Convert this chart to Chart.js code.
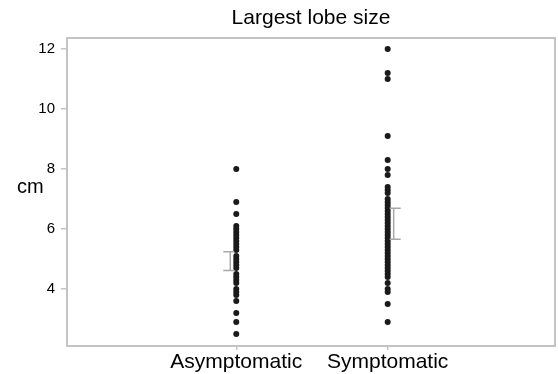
<!DOCTYPE html>
<html>
<head>
<meta charset="utf-8">
<script src="https://cdn.jsdelivr.net/npm/chart.js@4"></script>
<style>
  html, body { margin: 0; padding: 0; background: #fff; }
  #wrap { width: 558px; height: 374px; }
</style>
</head>
<body>
<div id="wrap"><canvas id="grafico"></canvas></div>
<script>
// Datos
const titulo = 'Largest lobe size';
const categorias = ['Asymptomatic', 'Symptomatic'];
const asintomaticos = [8.0, 6.9, 6.5, 6.1, 6.0, 5.9, 5.8, 5.7, 5.6, 5.5, 5.4, 5.3, 5.1, 5.0, 4.9,
    4.8, 4.7, 4.5, 4.4, 4.3, 4.2, 4.0, 3.9, 3.8, 3.6, 3.2, 2.9, 2.5];
const sintomaticos = [12.0, 11.2, 11.0, 9.1, 8.3, 8.0, 7.8, 7.4, 7.3, 7.2, 7.0, 6.9, 6.8, 6.7,
    6.6, 6.5, 6.4, 6.3, 6.2, 6.1, 6.0, 5.9, 5.8, 5.7, 5.6, 5.5, 5.4, 5.3, 5.2, 5.1, 5.0, 4.9,
    4.8, 4.7, 4.6, 4.5, 4.4, 4.2, 4.0, 3.9, 3.5, 2.9];
const errorBajo = [4.62, 5.66];
const errorAlto = [5.24, 6.69];
const ticksY = [4, 6, 8, 10, 12];

const gris = '#c4c4c4';
const fuente = '"Liberation Sans", Arial, sans-serif';

// Marco, titulo y barras de error
const extras = {
    id: 'extras',
    beforeDatasetsDraw(chart) {
        const a = chart.chartArea;
        const ctx = chart.ctx;
        ctx.save();
        ctx.strokeStyle = gris;
        ctx.lineWidth = 2;
        ctx.strokeRect(a.left, a.top, a.right - a.left, a.bottom - a.top);
        ctx.restore();
    },
    afterDatasetsDraw(chart) {
        const ctx = chart.ctx;
        const a = chart.chartArea;
        const x = chart.scales.x, y = chart.scales.y;
        ctx.save();
        ctx.strokeStyle = '#a8a8a8';
        ctx.lineWidth = 1.5;
        categorias.forEach(function(c, i) {
            const lado = i === 0 ? -1 : 1;
            const cx = x.getPixelForValue(i + 1);
            const v = cx + lado * 6;
            const y1 = y.getPixelForValue(errorAlto[i]);
            const y2 = y.getPixelForValue(errorBajo[i]);
            ctx.beginPath();
            ctx.moveTo(v, y1); ctx.lineTo(v, y2);
            ctx.moveTo(cx + lado * 2, y1); ctx.lineTo(cx + lado * 13, y1);
            ctx.moveTo(cx + lado * 2, y2); ctx.lineTo(cx + lado * 13, y2);
            ctx.stroke();
        });
        ctx.fillStyle = '#000';
        ctx.textBaseline = 'middle';
        // titulo centrado sobre el area del grafico
        ctx.font = '21px ' + fuente;
        ctx.textAlign = 'center';
        ctx.fillText(titulo, (a.left + a.right) / 2, 18);
        // etiqueta del eje Y
        ctx.font = '20px ' + fuente;
        ctx.textAlign = 'left';
        ctx.fillText('cm', 17, 187);
        ctx.restore();
    }
};

const ctx = document.getElementById('grafico').getContext('2d');
const grafico = new Chart(ctx, {
    type: 'scatter',
    data: {
        datasets: [
            { data: asintomaticos.map(v => ({ x: 1, y: v })) },
            { data: sintomaticos.map(v => ({ x: 2, y: v })) }
        ]
    },
    options: {
        responsive: true,
        maintainAspectRatio: false,
        animation: false,
        layout: { padding: { left: 0, right: 1, top: 38, bottom: 0 } },
        elements: {
            point: { radius: 3, backgroundColor: '#1a1a1a', borderWidth: 0, hoverRadius: 3 }
        },
        plugins: {
            legend: { display: false },
            tooltip: { enabled: false },
            title: { display: false }
        },
        scales: {
            x: {
                type: 'linear',
                min: -0.118,
                max: 3.105,
                afterBuildTicks: s => { s.ticks = [{ value: 1 }, { value: 2 }]; },
                afterFit: s => { s.height = 28; },
                border: { display: false },
                grid: { drawOnChartArea: false, tickLength: 4, color: gris, lineWidth: 1.5 },
                ticks: {
                    color: '#000',
                    padding: 0,
                    maxRotation: 0,
                    font: { family: fuente, size: 21 },
                    callback: v => categorias[v - 1]
                }
            },
            y: {
                min: 2.1,
                max: 12.367,
                afterBuildTicks: s => { s.ticks = ticksY.map(v => ({ value: v })); },
                afterFit: s => { s.width = 67; },
                border: { display: false },
                grid: { drawOnChartArea: false, tickLength: 6, color: gris, lineWidth: 1.5 },
                ticks: {
                    color: '#000',
                    padding: 6,
                    font: { family: fuente, size: 15 }
                }
            }
        }
    },
    plugins: [extras]
});
</script>
</body>
</html>
